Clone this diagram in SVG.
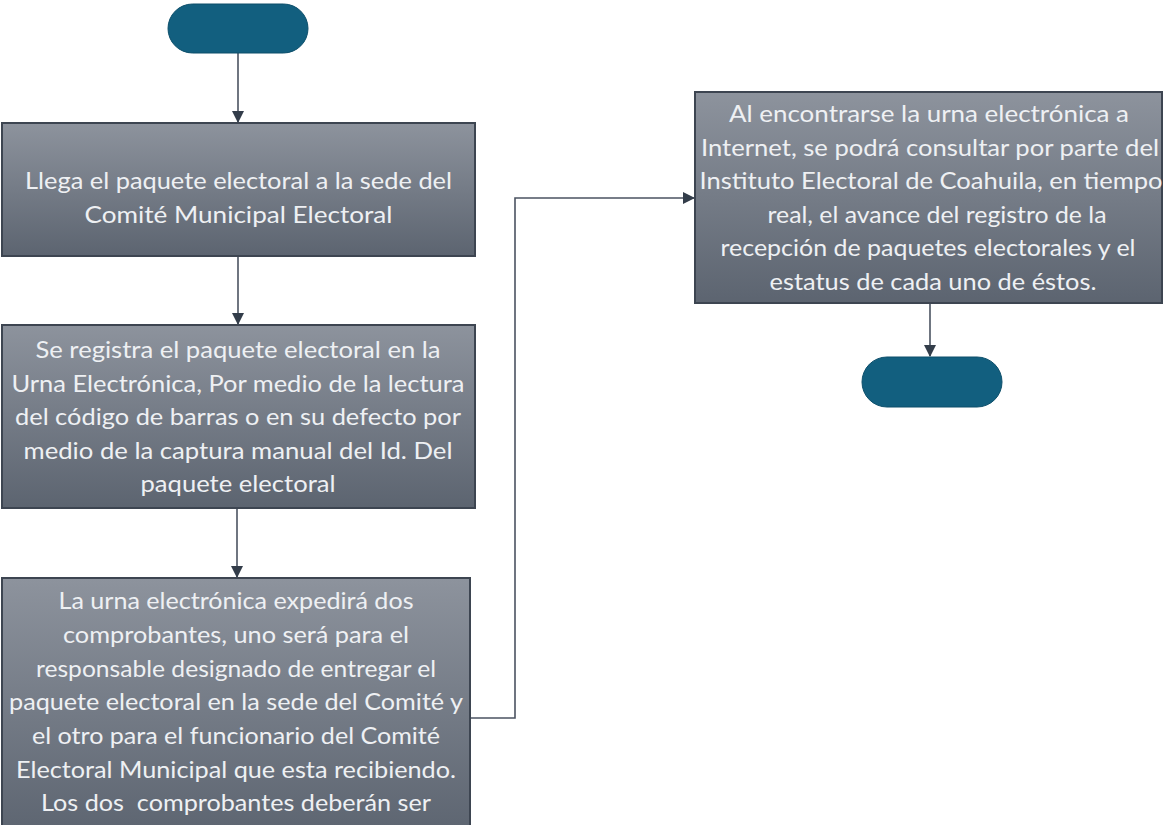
<svg xmlns="http://www.w3.org/2000/svg" width="1164" height="825" viewBox="0 0 1164 825">
<defs>
<linearGradient id="g" x1="0" y1="0" x2="0" y2="1">
<stop offset="0" stop-color="#8d939d"/>
<stop offset="1" stop-color="#5c6470"/>
</linearGradient>
<marker id="ah" markerWidth="12" markerHeight="12" refX="11" refY="6" orient="auto" markerUnits="userSpaceOnUse">
<path d="M0,0 L12,6 L0,12 Z" fill="#333d4a"/>
</marker>
<style>
.box{fill:url(#g);stroke:#3d4551;stroke-width:2}
.term{fill:#125f7f;stroke:#0d4f6b;stroke-width:1}
.t{font-family:Lato,"Open Sans","Liberation Sans",sans-serif;font-size:24px;fill:#eef0f3;text-anchor:middle}
.c{fill:none;stroke:#4b5361;stroke-width:1.6}
</style>
</defs>
<rect width="1164" height="825" fill="#ffffff"/>
<g id="connectors">
<line class="c" x1="238" y1="53" x2="238" y2="122" marker-end="url(#ah)"/>
<line class="c" x1="238" y1="256" x2="238" y2="324" marker-end="url(#ah)"/>
<line class="c" x1="237" y1="508" x2="237" y2="577" marker-end="url(#ah)"/>
<polyline class="c" points="470,718 515,718 515,198 694,198" marker-end="url(#ah)"/>
<line class="c" x1="930" y1="303" x2="930" y2="356" marker-end="url(#ah)"/>
</g>
<g id="start">
<rect class="term" x="168" y="4" width="140" height="49" rx="24.5"/>
</g>
<g id="n1">
<rect class="box" x="2" y="123" width="473" height="133"/>
<text class="t" x="238.5" y="189" textLength="427" lengthAdjust="spacingAndGlyphs">Llega el paquete electoral a la sede del</text>
<text class="t" x="238.5" y="222.5" textLength="308" lengthAdjust="spacingAndGlyphs">Comité Municipal Electoral</text>
</g>
<g id="n2">
<rect class="box" x="2" y="325" width="473" height="183"/>
<text class="t" x="238" y="358" textLength="405" lengthAdjust="spacingAndGlyphs">Se registra el paquete electoral en la</text>
<text class="t" x="238" y="391.5" textLength="453" lengthAdjust="spacingAndGlyphs">Urna Electrónica, Por medio de la lectura</text>
<text class="t" x="238" y="425" textLength="446" lengthAdjust="spacingAndGlyphs">del código de barras o en su defecto por</text>
<text class="t" x="238" y="458.5" textLength="429" lengthAdjust="spacingAndGlyphs">medio de la captura manual del Id. Del</text>
<text class="t" x="238" y="492" textLength="195" lengthAdjust="spacingAndGlyphs">paquete electoral</text>
</g>
<g id="n3">
<rect class="box" x="2" y="578" width="468" height="260"/>
<text class="t" x="236" y="609" textLength="355" lengthAdjust="spacingAndGlyphs">La urna electrónica expedirá dos</text>
<text class="t" x="236" y="643" textLength="346" lengthAdjust="spacingAndGlyphs">comprobantes, uno será para el</text>
<text class="t" x="236" y="676.5" textLength="400" lengthAdjust="spacingAndGlyphs">responsable designado de entregar el</text>
<text class="t" x="236" y="710" textLength="454" lengthAdjust="spacingAndGlyphs">paquete electoral en la sede del Comité y</text>
<text class="t" x="236" y="744" textLength="408" lengthAdjust="spacingAndGlyphs">el otro para el funcionario del Comité</text>
<text class="t" x="236" y="777.5" textLength="440" lengthAdjust="spacingAndGlyphs">Electoral Municipal que esta recibiendo.</text>
<text class="t" x="236" y="811" textLength="390" lengthAdjust="spacingAndGlyphs" xml:space="preserve">Los dos  comprobantes deberán ser</text>
</g>
<g id="n4">
<rect class="box" x="695" y="92" width="467" height="211"/>
<text class="t" x="929" y="122" textLength="400" lengthAdjust="spacingAndGlyphs">Al encontrarse la urna electrónica a</text>
<text class="t" x="930" y="155.6" textLength="458" lengthAdjust="spacingAndGlyphs">Internet, se podrá consultar por parte del</text>
<text class="t" x="931" y="189.2" textLength="463" lengthAdjust="spacingAndGlyphs">Instituto Electoral de Coahuila, en tiempo</text>
<text class="t" x="937" y="222.8" textLength="339" lengthAdjust="spacingAndGlyphs">real, el avance del registro de la</text>
<text class="t" x="928" y="256.4" textLength="415" lengthAdjust="spacingAndGlyphs">recepción de paquetes electorales y el</text>
<text class="t" x="933" y="290" textLength="327" lengthAdjust="spacingAndGlyphs">estatus de cada uno de éstos.</text>
</g>
<g id="end">
<rect class="term" x="862" y="357" width="140" height="50" rx="25"/>
</g>
</svg>
